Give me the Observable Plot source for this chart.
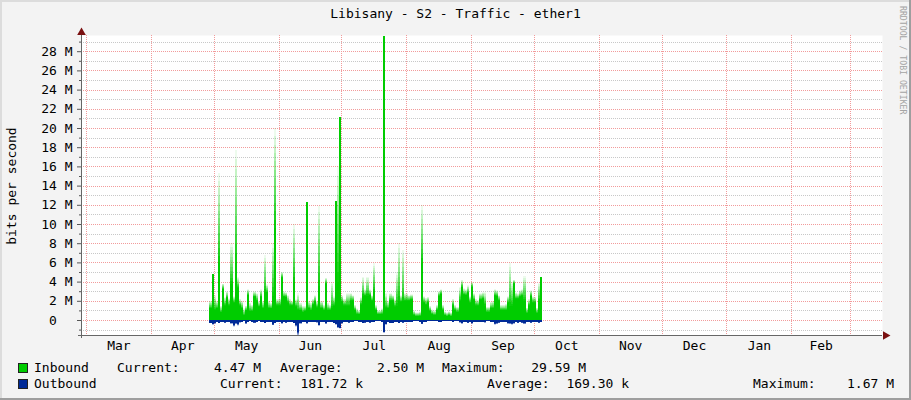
<!DOCTYPE html>
<html><head><meta charset="utf-8">
<script src="https://cdn.jsdelivr.net/npm/d3@7"></script>
<script src="https://cdn.jsdelivr.net/npm/@observablehq/plot@0.6"></script>
<style>
body{margin:0;background:#f3f3f3;}
#wrap{position:relative;width:911px;height:400px;background:#f3f3f3;overflow:hidden;
  font-family:"DejaVu Sans Mono",monospace;font-size:13px;color:#000;
  box-shadow: inset -2px -2px 0 #9e9e9e, inset 2px 2px 0 #dcdcdc;}
.t{position:absolute;white-space:pre;line-height:16px;}
.sq{position:absolute;width:8px;height:8px;border:1px solid #222;}
#title{position:absolute;left:0;top:5px;width:911px;text-align:center;line-height:18px;white-space:pre;}
#ylab{position:absolute;left:12px;top:186px;transform:translate(-50%,-50%) rotate(-90deg);white-space:pre;line-height:16px;}
#credit{position:absolute;left:898px;top:6px;writing-mode:vertical-rl;font-size:8.2px;line-height:10px;color:#a4a4a4;white-space:pre;}
</style></head><body>
<div id="wrap">
  <div id="title">Libisany - S2 - Traffic - ether1</div>
  <div id="ylab">bits per second</div>
  <div id="credit">RRDTOOL / TOBI OETIKER</div>
  <div id="legend"></div>
</div>
<script>
// ---- data (daily values, Mbit/s) ----
const dataStart = "2013-04-29";
const inAvg = [
 1.2, 4.8, 1.0, 1.2, 5.9, 0.8, 3.2, 1.5, 2.3, 1.5,
 3.7, 1.8, 6.0, 3.3, 1.5, 1.2, 0.5, 1.0, 2.6, 0.9,
 0.9, 2.4, 2.0, 1.4, 2.4, 1.2, 2.9, 2.9, 1.2, 1.2,
 2.5, 9.6, 1.5, 1.5, 4.4, 2.4, 2.4, 1.8, 1.5, 1.5,
 4.0, 1.4, 1.0, 1.0, 0.8, 0.9, 12.3, 1.2, 1.0, 1.6,
 1.9, 1.3, 3.5, 1.2, 1.0, 3.8, 1.0, 1.0, 1.2, 1.5,
 12.4, 4.0, 21.1, 1.9, 1.5, 1.5, 1.5, 2.0, 2.0, 1.0,
 0.6, 0.6, 1.6, 2.5, 2.5, 2.5, 2.6, 2.0, 3.0, 1.0,
 0.6, 0.6, 0.6, 29.59, 1.2, 1.2, 2.0, 2.0, 1.4, 1.5,
 2.0, 1.9, 2.0, 2.0, 2.0, 2.0, 2.1, 0.5, 0.4, 0.4,
 0.4, 5.9, 1.8, 1.6, 1.8, 0.9, 0.6, 0.5, 1.0, 2.5,
 2.7, 1.0, 0.5, 0.4, 0.5, 0.4, 1.5, 1.0, 0.8, 2.0,
 3.4, 2.6, 2.6, 2.8, 1.8, 3.4, 2.1, 1.5, 1.5, 2.1,
 2.2, 1.5, 0.8, 0.8, 1.2, 1.2, 2.5, 2.5, 2.0, 1.0,
 1.0, 1.0, 1.8, 1.5, 1.5, 3.8, 2.2, 2.2, 2.4, 2.5,
 2.0, 0.7, 1.5, 2.5, 1.8, 1.8, 0.7, 2.0, 4.47
];
const inPeak = [
 2.0, 4.8, 2.6, 2.0, 15.3, 1.5, 3.8, 2.4, 3.0, 2.3,
 8.0, 2.5, 17.7, 4.5, 2.2, 2.0, 1.2, 1.5, 3.2, 1.8,
 1.6, 3.0, 2.8, 2.0, 3.2, 2.0, 6.8, 3.7, 2.0, 1.8,
 8.0, 20.0, 2.2, 2.3, 5.0, 3.0, 2.9, 2.6, 2.2, 2.0,
 10.0, 2.2, 2.8, 1.8, 1.5, 1.5, 12.3, 2.0, 1.8, 2.2,
 2.6, 2.0, 11.9, 2.0, 1.6, 4.4, 1.8, 1.6, 4.0, 2.5,
 12.4, 16.0, 21.1, 2.6, 2.2, 2.8, 2.8, 2.8, 2.6, 1.6,
 1.2, 1.0, 2.4, 4.5, 3.2, 4.5, 3.2, 2.6, 5.9, 1.6,
 1.0, 1.0, 1.2, 29.59, 2.8, 2.0, 2.8, 2.6, 2.2, 5.0,
 8.0, 2.6, 7.3, 2.8, 2.8, 2.6, 2.7, 1.0, 0.8, 0.8,
 0.9, 12.0, 2.5, 2.3, 2.4, 1.5, 1.1, 1.0, 1.6, 3.0,
 3.2, 1.6, 0.9, 0.8, 0.9, 0.8, 2.2, 1.6, 1.4, 3.4,
 4.2, 3.3, 3.2, 3.6, 2.5, 4.0, 2.8, 2.2, 2.1, 2.8,
 2.9, 2.9, 1.4, 1.4, 1.9, 2.0, 3.2, 3.1, 2.6, 1.6,
 1.6, 1.7, 2.5, 5.9, 4.0, 4.2, 2.9, 2.8, 3.1, 3.2,
 4.6, 1.3, 2.2, 3.1, 2.5, 2.4, 1.3, 3.9, 4.47
];
const outAvg = [
 0.3, 0.4, 0.3, 0.2, 0.3, 0.2, 0.2, 0.25, 0.2, 0.2,
 0.3, 0.5, 0.3, 0.4, 0.2, 0.2, 0.15, 0.3, 0.2, 0.15,
 0.2, 0.25, 0.2, 0.15, 0.2, 0.2, 0.3, 0.2, 0.2, 0.2,
 0.45, 0.3, 0.2, 0.2, 0.3, 0.2, 0.25, 0.2, 0.2, 0.2,
 0.3, 0.5, 1.2, 0.3, 0.2, 0.2, 0.3, 0.2, 0.2, 0.2,
 0.2, 0.2, 0.5, 0.2, 0.2, 0.3, 0.2, 0.2, 0.2, 0.3,
 0.4, 0.7, 0.8, 0.3, 0.2, 0.2, 0.25, 0.2, 0.2, 0.15,
 0.15, 0.2, 0.2, 0.3, 0.25, 0.2, 0.25, 0.2, 0.2, 0.15,
 0.15, 0.15, 0.2, 1.2, 0.4, 0.2, 0.3, 0.3, 0.2, 0.2,
 0.3, 0.2, 0.25, 0.2, 0.2, 0.2, 0.2, 0.15, 0.15, 0.15,
 0.2, 0.35, 0.2, 0.2, 0.15, 0.15, 0.15, 0.15, 0.15, 0.2,
 0.2, 0.15, 0.15, 0.15, 0.15, 0.15, 0.2, 0.15, 0.15, 0.2,
 0.3, 0.2, 0.2, 0.25, 0.2, 0.3, 0.2, 0.2, 0.2, 0.2,
 0.2, 0.2, 0.15, 0.15, 0.2, 0.2, 0.35, 0.3, 0.25, 0.2,
 0.2, 0.2, 0.3, 0.3, 0.35, 0.3, 0.2, 0.25, 0.2, 0.25,
 0.3, 0.2, 0.2, 0.25, 0.2, 0.2, 0.2, 0.25, 0.18
];
const outPeak = [
 0.3, 0.5, 0.4, 0.2, 0.3, 0.2, 0.2, 0.3, 0.2, 0.2,
 0.4, 0.7, 0.45, 0.6, 0.3, 0.2, 0.15, 0.45, 0.2, 0.15,
 0.25, 0.3, 0.2, 0.15, 0.25, 0.2, 0.35, 0.2, 0.2, 0.25,
 0.55, 0.35, 0.2, 0.2, 0.4, 0.2, 0.3, 0.2, 0.2, 0.2,
 0.35, 0.7, 1.67, 0.4, 0.2, 0.2, 0.4, 0.2, 0.2, 0.2,
 0.2, 0.3, 0.6, 0.2, 0.2, 0.45, 0.2, 0.2, 0.25, 0.35,
 0.5, 0.85, 0.9, 0.4, 0.2, 0.2, 0.3, 0.2, 0.2, 0.15,
 0.15, 0.2, 0.25, 0.35, 0.3, 0.2, 0.3, 0.2, 0.2, 0.15,
 0.15, 0.15, 0.2, 1.35, 0.5, 0.2, 0.35, 0.35, 0.2, 0.2,
 0.35, 0.2, 0.3, 0.2, 0.2, 0.2, 0.2, 0.15, 0.15, 0.15,
 0.25, 0.45, 0.2, 0.2, 0.15, 0.15, 0.15, 0.15, 0.15, 0.2,
 0.2, 0.15, 0.15, 0.15, 0.15, 0.15, 0.2, 0.15, 0.15, 0.3,
 0.4, 0.2, 0.2, 0.35, 0.2, 0.4, 0.2, 0.2, 0.2, 0.25,
 0.2, 0.3, 0.15, 0.15, 0.2, 0.2, 0.5, 0.45, 0.3, 0.2,
 0.2, 0.2, 0.4, 0.45, 0.5, 0.4, 0.2, 0.35, 0.2, 0.3,
 0.45, 0.2, 0.2, 0.3, 0.2, 0.2, 0.2, 0.3, 0.18
];
const monthStarts = ["2013-03-01","2013-04-01","2013-05-01","2013-06-01","2013-07-01","2013-08-01",
  "2013-09-01","2013-10-01","2013-11-01","2013-12-01","2014-01-01","2014-02-01","2014-03-01"];
const monthNames = ["Mar","Apr","May","Jun","Jul","Aug","Sep","Oct","Nov","Dec","Jan","Feb"];
const yMajor = [0,2,4,6,8,10,12,14,16,18,20,22,24,26,28];
const yMinor = [-1,1,3,5,7,9,11,13,15,17,19,21,23,25,27,29];
const legendRows = [
  {name:"Inbound",  color:"#00cc00", cur:"4.47 M",   avg:"2.50 M",   max:"29.59 M"},
  {name:"Outbound", color:"#002a97", cur:"181.72 k", avg:"169.30 k", max:"1.67 M"}
];

// ---- build table ----
const t0 = new Date(dataStart + "T00:00:00Z");
const data = inAvg.map((v, i) => ({
  date: d3.utcDay.offset(t0, i),
  end: d3.utcDay.offset(t0, i + 1),
  inA: v, inM: inPeak[i], outA: outAvg[i], outM: outPeak[i]
}));
const months = monthNames.map((n, i) => {
  const a = new Date(monthStarts[i] + "T00:00:00Z"), b = new Date(monthStarts[i+1] + "T00:00:00Z");
  return {name: n, mid: new Date((+a + +b) / 2)};
});
const starts = monthStarts.map(s => new Date(s + "T00:00:00Z"));

const xDomain = [new Date("2013-02-26T14:40:00Z"), new Date("2014-03-16T07:28:00Z")];
const yDomain = [-1.5625, 29.6875];

const N = 12;
const fadeIn = data.filter(d => d.inM > d.inA);
const fadeOut = data.filter(d => d.outM > d.outA);
const fadeMarks = [];
for (let k = 0; k < N; k++) {
  const op = 1 - (k + 0.5) / N * 0.97;
  fadeMarks.push(Plot.rectY(fadeIn, {x1: "date", x2: "end",
    y1: d => d.inA + (d.inM - d.inA) * k / N, y2: d => d.inA + (d.inM - d.inA) * (k + 1) / N,
    fill: "#00cc00", fillOpacity: op, inset: 0, shapeRendering: "crispEdges"}));
  fadeMarks.push(Plot.rectY(fadeOut, {x1: "date", x2: "end",
    y1: d => -(d.outA + (d.outM - d.outA) * k / N), y2: d => -(d.outA + (d.outM - d.outA) * (k + 1) / N),
    fill: "#002a97", fillOpacity: op, inset: 0, shapeRendering: "crispEdges"}));
}

const chart = Plot.plot({
  width: 911, height: 340,
  marginTop: 15, marginBottom: 25, marginLeft: 81, marginRight: 29,
  style: {background: "transparent", fontFamily: "DejaVu Sans Mono", fontSize: "13px", overflow: "visible", color: "#000"},
  x: {type: "utc", domain: xDomain, axis: null},
  y: {domain: yDomain},
  marks: [
    Plot.frame({fill: "white", stroke: "none"}),
    Plot.ruleY(yMinor, {stroke: "#c8c8c8", strokeDasharray: "1,1", shapeRendering: "crispEdges"}),
    Plot.ruleY(yMajor, {stroke: "#f29b9b", strokeDasharray: "1,1", shapeRendering: "crispEdges"}),
    Plot.ruleX(starts, {stroke: "#f29b9b", strokeDasharray: "1,1", shapeRendering: "crispEdges"}),
    Plot.rectY(data, {x1: "date", x2: "end", y1: 0, y2: "inA", fill: "#00cc00", inset: 0, shapeRendering: "crispEdges"}),
    Plot.rectY(data, {x1: "date", x2: "end", y1: 0, y2: d => -d.outA, fill: "#002a97", inset: 0, shapeRendering: "crispEdges"}),
    ...fadeMarks,
    Plot.axisY({ticks: yMinor, tickSize: 2, tickFormat: () => "", stroke: "#555", label: null}),
    Plot.axisY({ticks: yMajor, tickSize: 4, tickPadding: 5, stroke: "#555", fill: "#000", label: null,
      fontSize: 13, fontFamily: "DejaVu Sans Mono",
      tickFormat: v => v === 0 ? "0\u00A0\u00A0" : v + " M"}),
    Plot.ruleX([xDomain[0]], {stroke: "#666", insetBottom: -3, shapeRendering: "crispEdges"}),
    Plot.ruleY([yDomain[0]], {stroke: "#666", insetLeft: -3, shapeRendering: "crispEdges"}),
    Plot.dot([{x: xDomain[0], y: yDomain[1]}], {x: "x", y: "y", symbol: "triangle", r: 3.2, fill: "#7a1010", stroke: "none", dy: -3}),
    Plot.dot([{x: xDomain[1], y: yDomain[0]}], {x: "x", y: "y", symbol: "triangle", r: 3.2, fill: "#7a1010", stroke: "none", rotate: 90, dx: 3}),
    Plot.text(months, {x: "mid", text: "name", frameAnchor: "bottom", dy: 14, fill: "#000",
      fontSize: 13, fontFamily: "DejaVu Sans Mono"})
  ]
});
chart.style.position = "absolute";
chart.style.left = "0px";
chart.style.top = "20px";
document.getElementById("wrap").appendChild(chart);

// ---- legend ----
const lg = document.getElementById("legend");
const cols = [
  {lab: 117, curR: 261, avgL: 280, avgR: 424, maxL: 442, maxR: 586},
  {lab: 220, curR: 363, avgL: 487, avgR: 629, maxL: 753, maxR: 894}
];
legendRows.forEach((r, i) => {
  const top = 360 + i * 16, c = cols[i];
  const add = (html, style) => { const e = document.createElement("div"); e.className = "t"; e.textContent = html; Object.assign(e.style, style); lg.appendChild(e); };
  const sq = document.createElement("div"); sq.className = "sq";
  Object.assign(sq.style, {left: "18px", top: (top + 3) + "px", background: r.color}); lg.appendChild(sq);
  add(r.name, {left: "34px", top: top + "px"});
  add("Current:", {left: c.lab + "px", top: top + "px"});
  add(r.cur, {right: (911 - c.curR) + "px", top: top + "px"});
  add("Average:", {left: c.avgL + "px", top: top + "px"});
  add(r.avg, {right: (911 - c.avgR) + "px", top: top + "px"});
  add("Maximum:", {left: c.maxL + "px", top: top + "px"});
  add(r.max, {right: (911 - c.maxR) + "px", top: top + "px"});
});
</script>
</body></html>
